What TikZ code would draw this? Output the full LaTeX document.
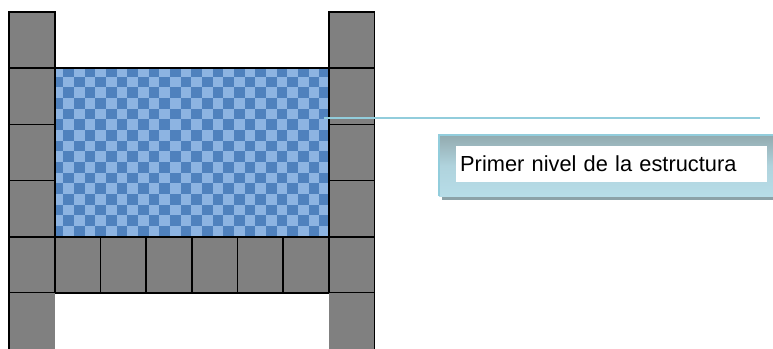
\documentclass[tikz,border=0pt]{standalone}
\usepackage{fontspec}
\setmainfont{Liberation Sans}
\usetikzlibrary{positioning,calc}
\definecolor{blockgray}{RGB}{128,128,128}
\definecolor{chkdark}{RGB}{79,129,189}
\definecolor{chklight}{RGB}{141,180,226}
\definecolor{calloutline}{RGB}{146,205,220}
\definecolor{boxtop}{RGB}{146,170,175}
\definecolor{boxbot}{RGB}{183,221,232}
\definecolor{boxshadow}{RGB}{140,162,168}

\begin{document}
\begin{tikzpicture}[x=1pt, y=-1pt,
  block/.style={fill=blockgray},
  edge/.style={draw=black, line width=1.6pt},
  callout/.style={draw=calloutline, line width=1.8pt},
  lbltext/.style={fill=white, anchor=west, inner xsep=4pt, inner ysep=0pt,
                  text width=303, align=left, minimum height=36, text depth=0pt,
                  font=\fontsize{21.8}{26}\selectfont}
]
\useasboundingbox (0,0) rectangle (773,348);

\def\cw{45.7}
\def\ch{56.2}
\def\xo{9}
\def\yo{12}

% checkerboard pool
\begin{scope}
  \clip (\xo+\cw,\yo+\ch) rectangle (\xo+7*\cw,\yo+4*\ch);
  \fill[chklight] (\xo+\cw,\yo+\ch) rectangle (\xo+7*\cw,\yo+4*\ch);
  \foreach \i in {0,...,26}
    \foreach \j in {0,...,16} {
      \pgfmathparse{int(mod(\i+\j,2))}
      \ifnum\pgfmathresult=1
        \fill[chkdark] (52.7+\i*10.67,66+\j*10.67) rectangle ++(10.67,10.67);
      \fi
    }
\end{scope}
\node[inner sep=0pt, minimum width=6*\cw, minimum height=3*\ch, anchor=north west]
  (pool) at (\xo+\cw,\yo+\ch) {};
\draw[edge] (pool.north west) -- (pool.north east);

% side columns
\foreach \c in {0,7}
  \foreach \r in {0,...,4}
    \draw[block, edge] (\xo+\c*\cw,\yo+\r*\ch) rectangle ++(\cw,\ch);

% bottom row
\foreach \c in {1,...,6}
  \draw[block, edge] (\xo+\c*\cw,\yo+4*\ch) rectangle ++(\cw,\ch);

% lowest blocks, cut by the page
\fill[block] (\xo,\yo+5*\ch) rectangle ++(\cw,\ch);
\fill[block] (\xo+7*\cw,\yo+5*\ch) rectangle ++(\cw,\ch);
\draw[edge] (\xo,\yo+5*\ch) -- ++(0,\ch);
\draw[edge] (\xo+8*\cw,\yo+5*\ch) -- ++(0,\ch);

% label box
\fill[boxshadow] (442,190) rectangle (780,200);
\shade[top color=boxtop, bottom color=boxbot, middle color=boxbot!80!boxtop]
  (439,135) rectangle (780,196);
\draw[calloutline, line width=1.6pt] (439,196) -- (439,135) -- (780,135);
\node[lbltext] (lbl) at (456,164) {Primer nivel de la estructura};

% callout line
\coordinate (tip) at (324,118);
\coordinate (tail) at (760,118);
\draw[callout] (tip) -- (tail);
\end{tikzpicture}
\end{document}
